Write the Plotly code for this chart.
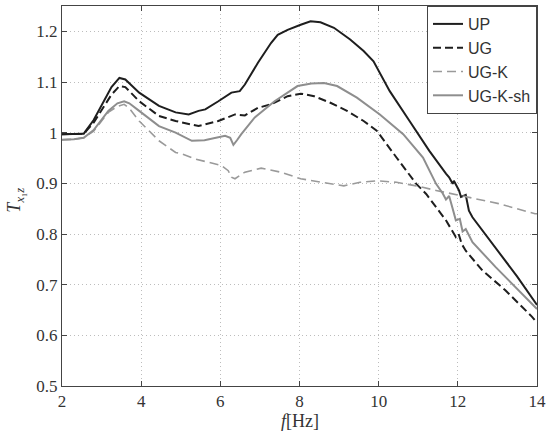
import plotly.graph_objects as go

# Transmissibility curves T_x1z versus frequency for four configurations
f_up = [2.0, 2.3, 2.55, 2.8, 3.05, 3.25, 3.45, 3.6, 3.95, 4.45, 4.87, 5.2, 5.45, 5.62,
        5.95, 6.28, 6.49, 6.62, 6.95, 7.28, 7.45, 7.7, 8.03, 8.28, 8.53, 8.87, 9.28,
        9.62, 9.87, 10.28, 10.78, 11.28, 11.7, 11.78, 11.87, 11.9, 12.03, 12.08, 12.2,
        12.28, 12.37, 12.95, 13.5, 14.0]
t_up = [0.997, 0.997, 0.998, 1.025, 1.062, 1.09, 1.108, 1.105, 1.079, 1.053, 1.04, 1.036,
        1.043, 1.046, 1.062, 1.079, 1.082, 1.095, 1.138, 1.177, 1.193, 1.203, 1.213, 1.22,
        1.218, 1.207, 1.184, 1.161, 1.141, 1.082, 1.023, 0.964, 0.919, 0.912, 0.899, 0.905,
        0.886, 0.873, 0.877, 0.846, 0.833, 0.772, 0.716, 0.66]

f_ug = [2.0, 2.3, 2.55, 2.8, 3.05, 3.25, 3.45, 3.6, 3.95, 4.45, 4.87, 5.2, 5.45, 5.95,
        6.37, 6.62, 6.95, 7.28, 7.7, 8.03, 8.37, 8.78, 9.2, 9.62, 9.95, 10.45, 10.95,
        11.2, 11.7, 11.95, 12.02, 12.1, 12.2, 12.62, 13.2, 13.87, 14.0]
t_ug = [0.997, 0.997, 0.998, 1.02, 1.05, 1.075, 1.092, 1.09, 1.062, 1.033, 1.023, 1.018,
        1.013, 1.023, 1.036, 1.034, 1.049, 1.056, 1.072, 1.077, 1.072, 1.059, 1.043, 1.023,
        1.004, 0.951, 0.899, 0.879, 0.827, 0.794, 0.8, 0.78, 0.767, 0.728, 0.689, 0.637,
        0.625]

f_ugk = [2.0, 2.3, 2.55, 2.8, 3.17, 3.4, 3.57, 3.7, 3.95, 4.45, 4.87, 5.03, 5.37, 5.53,
         6.03, 6.2, 6.28, 6.37, 6.62, 7.03, 7.53, 8.03, 8.53, 9.12, 9.53, 9.95, 10.45,
         10.95, 11.45, 12.2, 13.03, 13.95, 14.0]
t_ugk = [0.986, 0.987, 0.99, 1.003, 1.04, 1.052, 1.056, 1.048, 1.023, 0.984, 0.961, 0.958,
         0.948, 0.945, 0.935, 0.925, 0.912, 0.909, 0.922, 0.93, 0.922, 0.909, 0.902, 0.895,
         0.902, 0.905, 0.902, 0.895, 0.886, 0.873, 0.86, 0.84, 0.84]

f_ugksh = [2.0, 2.3, 2.55, 2.8, 3.17, 3.4, 3.57, 3.7, 3.95, 4.45, 4.87, 5.28, 5.6, 5.87,
           6.12, 6.25, 6.33, 6.42, 6.53, 6.87, 7.37, 7.95, 8.3, 8.62, 8.95, 9.45, 10.03,
           10.62, 11.12, 11.45, 11.62, 11.7, 11.78, 11.87, 11.95, 12.05, 12.12, 12.2,
           12.37, 12.95, 14.0]
t_ugksh = [0.986, 0.987, 0.99, 1.005, 1.043, 1.058, 1.062, 1.058, 1.043, 1.013, 1.0, 0.984,
           0.985, 0.99, 0.994, 0.99, 0.976, 0.985, 0.997, 1.03, 1.062, 1.092, 1.097, 1.098,
           1.092, 1.069, 1.036, 0.997, 0.951, 0.899, 0.88, 0.868, 0.875, 0.85, 0.827, 0.83,
           0.805, 0.81, 0.784, 0.735, 0.652]

series = [
    ("UP", f_up, t_up, dict(color="#1e1e1e", width=2.0, dash="solid")),
    ("UG", f_ug, t_ug, dict(color="#1e1e1e", width=2.0, dash="8px,4px")),
    ("UG-K", f_ugk, t_ugk, dict(color="#9a9a9a", width=1.6, dash="9px,5px")),
    ("UG-K-sh", f_ugksh, t_ugksh, dict(color="#8e8e8e", width=2.0, dash="solid")),
]

x_ticks = [2, 4, 6, 8, 10, 12, 14]
y_ticks = [0.5, 0.6, 0.7, 0.8, 0.9, 1.0, 1.1, 1.2]
y_tick_text = ["0.5", "0.6", "0.7", "0.8", "0.9", "1", "1.1", "1.2"]

SERIF = "Liberation Serif, Times New Roman, DejaVu Serif, serif"
SANS = "Liberation Sans, Arial, Helvetica, sans-serif"

fig = go.Figure()
for name, fx, ty, line in series:
    fig.add_trace(go.Scatter(x=fx, y=ty, mode="lines", name=name, line=line))

axis_common = dict(
    showline=True, linecolor="#444", linewidth=1, mirror="allticks",
    ticks="inside", ticklen=5, tickcolor="#444",
    showgrid=True, gridcolor="#bdbdbd", griddash="1px,3px", gridwidth=1,
    zeroline=False,
    tickfont=dict(family=SERIF, size=17, color="#333"),
)

fig.update_xaxes(range=[2, 14], tickvals=x_ticks, **axis_common)
fig.update_yaxes(range=[0.5, 1.25], tickvals=y_ticks, ticktext=y_tick_text, **axis_common)

fig.update_layout(
    width=551, height=438,
    margin=dict(l=62, r=9, t=5, b=51.5),
    paper_bgcolor="white", plot_bgcolor="white",
    showlegend=True,
    legend=dict(
        x=1, y=1, xanchor="right", yanchor="top",
        bgcolor="white", bordercolor="#444", borderwidth=1,
        font=dict(family=SANS, size=16, color="#333"),
        tracegroupgap=0, itemwidth=30,
    ),
    annotations=[
        dict(text="<i>f</i>[Hz]", xref="paper", yref="paper", x=0.5, y=-0.092,
             xanchor="center", yanchor="middle", showarrow=False,
             font=dict(family=SERIF, size=18, color="#333")),
        dict(text="<i>T</i><sub><i>x</i>₁<i>z</i></sub>", xref="paper", yref="paper",
             x=-0.098, y=0.489, xanchor="center", yanchor="middle", textangle=-90,
             showarrow=False,
             font=dict(family=SERIF, size=18, color="#333")),
    ],
)

fig.write_html("out.html")
